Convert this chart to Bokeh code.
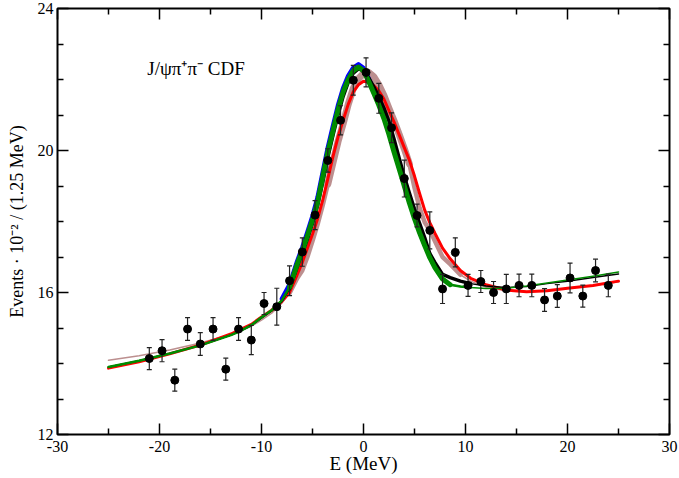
from bokeh.plotting import figure
from bokeh.models import FixedTicker, LinearAxis, Label
from bokeh.embed import file_html
from bokeh.resources import INLINE

# ---------------- data ----------------
X_TICKS = [-30, -20, -10, 0, 10, 20, 30]
X_MINOR = [-25, -15, -5, 5, 15, 25]
Y_TICKS = [12, 16, 20, 24]
Y_MINOR = [13, 14, 15, 17, 18, 19, 21, 22, 23]

# measured points (E in MeV, events/100, error)
PX = [-21, -19.75, -18.5, -17.25, -16, -14.75, -13.5, -12.25, -11, -9.75, -8.5, -7.25,
      -6, -4.75, -3.5, -2.25, -1, 0.25, 1.5, 2.75, 4, 5.25, 6.5, 7.75, 9, 10.25, 11.5,
      12.75, 14, 15.25, 16.5, 17.75, 19, 20.25, 21.5, 22.75, 24]
PY = [14.14, 14.36, 13.53, 14.97, 14.55, 14.97, 13.84, 14.97, 14.66, 15.69, 15.60, 16.33,
      17.14, 18.18, 19.72, 20.85, 21.98, 22.20, 21.47, 20.64, 19.21, 18.17, 17.75, 16.10,
      17.13, 16.20, 16.31, 16.00, 16.10, 16.20, 16.20, 15.79, 15.90, 16.41, 15.90, 16.62, 16.20]
PE = [0.31, 0.31, 0.31, 0.32, 0.32, 0.32, 0.31, 0.32, 0.41, 0.31, 0.52, 0.42, 0.40, 0.41,
      0.33, 0.41, 0.42, 0.41, 0.42, 0.42, 0.52, 0.32, 0.52, 0.41, 0.41, 0.31, 0.31, 0.31,
      0.41, 0.32, 0.32, 0.32, 0.32, 0.42, 0.31, 0.32, 0.32]

# curve sample abscissae
CX = [-25, -22, -19, -16, -13, -12.25, -11, -10, -9, -8, -7.25, -6.5, -6, -5.5, -5, -4.5,
      -4, -3.5, -3, -2.5, -2, -1.5, -1, -0.5, 0, 0.5, 1, 1.5, 2, 2.5, 3, 3.5, 4, 4.5, 5,
      5.5, 6, 6.5, 7, 7.75, 8.5, 9.5, 10.5, 12, 14, 16, 18, 20, 22.5, 25]

GREEN = [13.90, 14.08, 14.28, 14.51, 14.80, 14.89, 15.08, 15.30, 15.50, 15.78,
         16.15, 16.80, 17.18, 17.60, 18.05, 18.55, 19.25, 19.95, 20.55, 21.15,
         21.65, 22.00, 22.25, 22.35, 22.25, 21.95, 21.62, 21.28, 20.90, 20.45,
         19.95, 19.48, 19.00, 18.52, 18.08, 17.68, 17.32, 16.98, 16.70, 16.38,
         16.22, 16.17, 16.14, 16.11, 16.12, 16.18, 16.27, 16.35, 16.46, 16.58]
BLACK = [13.90, 14.08, 14.28, 14.51, 14.80, 14.89, 15.07, 15.28, 15.48, 15.74,
         16.10, 16.72, 17.10, 17.50, 17.95, 18.45, 19.10, 19.80, 20.42, 21.00,
         21.52, 21.92, 22.18, 22.30, 22.25, 22.05, 21.80, 21.52, 21.20, 20.82,
         20.32, 19.78, 19.27, 18.80, 18.35, 17.95, 17.55, 17.10, 16.85, 16.51,
         16.42, 16.32, 16.25, 16.18, 16.14, 16.17, 16.25, 16.32, 16.42, 16.52]
RED = [13.87, 14.05, 14.27, 14.52, 14.83, 14.93, 15.10, 15.31, 15.50, 15.75,
       16.00, 16.50, 16.85, 17.25, 17.65, 18.08, 18.60, 19.20, 19.82, 20.38,
       20.85, 21.30, 21.65, 21.85, 21.95, 21.92, 21.83, 21.68, 21.45, 21.12,
       20.80, 20.44, 20.08, 19.73, 19.28, 18.79, 18.32, 17.97, 17.67, 17.25,
       16.95, 16.62, 16.40, 16.22, 16.07, 16.02, 16.05, 16.12, 16.20, 16.32]
ROSY = [14.09, 14.22, 14.38, 14.58, 14.82, 14.90, 15.05, 15.22, 15.42, 15.70,
        15.98, 16.40, 16.62, 17.00, 17.45, 17.92, 18.45, 19.05, 19.65, 20.25,
        20.75, 21.30, 21.75, 22.02, 22.17, 22.20, 22.08, 21.85, 21.55, 21.18,
        20.83, 20.45, 20.05, 19.62, 18.95, 18.38, 17.98, 17.75, 17.45, 17.00,
        16.80, 16.50, 16.32, 16.15, 16.05, 16.02, 16.05, 16.12, 16.20, 16.30]
BLUE_X = CX[9:29]
BLUE = [15.82, 16.22, 16.88, 17.27, 17.70, 18.15, 18.68, 19.38, 20.08, 20.68,
        21.27, 21.75, 22.10, 22.33, 22.43, 22.32, 22.03, 21.70, 21.36, 20.96]

SERIF = "Liberation Serif"

# ---------------- figure ----------------
p = figure(width=679, height=478, x_range=(-30, 30), y_range=(12, 24),
           output_backend="svg", toolbar_location=None,
           min_border_left=57, min_border_right=10, min_border_top=8, min_border_bottom=44)
p.xgrid.visible = False
p.ygrid.visible = False
p.outline_line_color = "black"
p.outline_line_width = 2
p.outline_line_alpha = 1
p.background_fill_color = "white"
p.border_fill_color = "white"


def style_axis(ax, ticks, minor, labels=True):
    ax.ticker = FixedTicker(ticks=ticks, minor_ticks=minor)
    ax.axis_line_color = None
    ax.major_tick_in = 11
    ax.major_tick_out = 0
    ax.minor_tick_in = 6
    ax.minor_tick_out = 0
    ax.major_tick_line_color = "black"
    ax.minor_tick_line_color = "black"
    ax.major_tick_line_width = 1.5
    ax.minor_tick_line_width = 1.5
    ax.major_label_text_font = SERIF
    ax.major_label_text_font_size = "16px"
    ax.major_label_text_color = "black"
    ax.major_label_standoff = 4
    if labels:
        ax.major_label_overrides = {t: str(t) for t in ticks}
    else:
        ax.major_label_overrides = {t: "" for t in ticks}
        ax.major_label_text_font_size = "1px"
        ax.major_label_standoff = 0


xa = p.xaxis[0]
style_axis(xa, X_TICKS, X_MINOR)
xa.major_label_standoff = 6
xa.axis_label = "E (MeV)"
xa.axis_label_text_font = SERIF
xa.axis_label_text_font_size = "19px"
xa.axis_label_text_font_style = "normal"
xa.axis_label_text_color = "black"
try:
    xa.axis_label_standoff = -2
except Exception:
    xa.axis_label_standoff = 0

ya = p.yaxis[0]
style_axis(ya, Y_TICKS, Y_MINOR)
ya.axis_label = "Events \u00b7 10\u207b\u00b2 / (1.25 MeV)"
ya.axis_label_text_font = SERIF
ya.axis_label_text_font_size = "18px"
ya.axis_label_text_font_style = "normal"
ya.axis_label_text_color = "black"
ya.axis_label_standoff = 8

top = LinearAxis()
style_axis(top, X_TICKS, X_MINOR, labels=False)
p.add_layout(top, "above")
right = LinearAxis()
style_axis(right, Y_TICKS, Y_MINOR, labels=False)
p.add_layout(right, "right")

# ---------------- curves ----------------
LK = dict(line_join="round", line_cap="round")
ROSY_C = "#bc8f8f"
GREEN_C = "#008b00"

p.line(CX, ROSY, line_color=ROSY_C, line_width=1.5, **LK)
p.line(CX[10:42], ROSY[10:42], line_color=ROSY_C, line_width=4.5, **LK)
p.line(CX[17:34], ROSY[17:34], line_color=ROSY_C, line_width=7, **LK)

p.line(CX, RED, line_color="#ff0000", line_width=3, **LK)

p.line(BLUE_X, BLUE, line_color="#0000ff", line_width=4.5, **LK)

p.line(CX, BLACK, line_color="black", line_width=1.5, **LK)
p.line(CX[10:43], BLACK[10:43], line_color="black", line_width=3.5, **LK)

p.line(CX, GREEN, line_color=GREEN_C, line_width=1.5, **LK)
p.line(CX[0:43], GREEN[0:43], line_color=GREEN_C, line_width=2.5, **LK)
p.line(CX[10:41], GREEN[10:41], line_color=GREEN_C, line_width=5, **LK)

# ---------------- data points ----------------
lo = [y - e for y, e in zip(PY, PE)]
hi = [y + e for y, e in zip(PY, PE)]
p.segment(PX, lo, PX, hi, line_color="#222222", line_width=1.2)
p.scatter(PX, lo, marker="dash", size=5, line_color="#222222", line_width=1.2)
p.scatter(PX, hi, marker="dash", size=5, line_color="#222222", line_width=1.2)
p.scatter(PX, PY, marker="circle", size=8, fill_color="black", line_color="black")

# ---------------- texts ----------------
p.add_layout(Label(x=-21.2, y=22.3, text="J/\u03c8\u03c0\u207a\u03c0\u207b CDF",
                   text_font=SERIF, text_font_size="19px", text_color="black",
                   text_baseline="alphabetic", text_align="left"))

open("out.html", "w").write(file_html(p, INLINE))
